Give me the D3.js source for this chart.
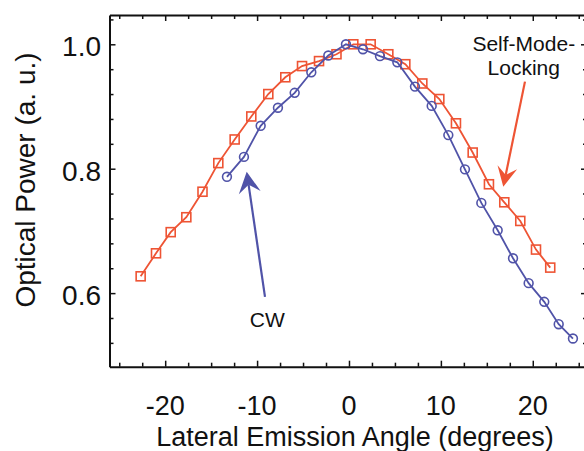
<!DOCTYPE html>
<html><head><meta charset="utf-8">
<script src="https://cdn.jsdelivr.net/npm/d3@7"></script>
<style>html,body{margin:0;padding:0;background:#fff;}svg{display:block;}</style>
</head><body>
<svg id="c" width="584" height="451"></svg>
<script>
// Self-Mode-Locking series
const smlAngle = [-22.67, -21.0, -19.40, -17.70, -15.94, -14.22, -12.44, -10.63, -8.78, -6.93, -5.11, -3.26, -1.36, 0.47, 2.36, 4.28, 6.13, 7.98, 9.83, 11.64, 13.46, 15.23, 16.90, 18.64, 20.35, 21.90];
const smlPower = [0.627, 0.664, 0.698, 0.722, 0.763, 0.809, 0.847, 0.884, 0.920, 0.947, 0.965, 0.973, 0.984, 1.000, 1.000, 0.984, 0.968, 0.937, 0.912, 0.873, 0.826, 0.775, 0.746, 0.716, 0.670, 0.641];
// CW series
const cwAngle = [-13.28, -11.43, -9.61, -7.73, -5.91, -4.10, -2.25, -0.33, 1.52, 3.37, 5.26, 7.18, 9.00, 10.81, 12.62, 14.40, 16.18, 17.85, 19.55, 21.25, 22.82, 24.37];
const cwPower = [0.787, 0.819, 0.869, 0.898, 0.922, 0.955, 0.982, 1.000, 0.992, 0.981, 0.971, 0.932, 0.901, 0.854, 0.799, 0.745, 0.701, 0.656, 0.616, 0.586, 0.550, 0.527];
// ticks
const xTickLabels = [-20, -10, 0, 10, 20];
const xMinorTicks = [-25, -22.5, -20, -17.5, -15, -12.5, -10, -7.5, -5, -2.5, 0, 2.5, 5, 7.5, 10, 12.5, 15, 17.5, 20, 22.5, 25];
const yTickLabels = [0.6, 0.8, 1.0];
const yMinorTicks = [0.52, 0.56, 0.60, 0.64, 0.68, 0.72, 0.76, 0.80, 0.84, 0.88, 0.92, 0.96, 1.00, 1.04];
// annotations (data coordinates)
const cwArrow = {tail: [-9.14, 0.594], tip: [-11.13, 0.795], label: "CW", at: [-8.89, 0.546]};
const smlArrow = {tail: [19.15, 0.940], tip: [16.79, 0.771], lines: ["Self-Mode-", "Locking"], at: [19.02, 0.990], at2: [19.02, 0.950]};

const RED = "#ee5434", BLUE = "#5053a8";
const svg = d3.select("#c");
const L = 109.5, R = 587, T = 15, B = 366.7;
const x = d3.scaleLinear().domain([-26.06, 25.9]).range([L, R]);
const y = d3.scaleLinear().domain([0.4817, 1.0471]).range([B, T]);
const font = "'Liberation Sans', Arial, Helvetica, sans-serif";

function tickLen(major){return major?6:4;}
const isMajX = v => Math.abs(v % 10) < 1e-6;
const isMajY = v => yTickLabels.some(t => Math.abs(t - v) < 1e-6);
const gBottom = svg.append("g").attr("transform", `translate(0,${B})`)
  .call(d3.axisBottom(x).tickValues(xMinorTicks).tickSize(0).tickFormat(""));
const gTop = svg.append("g").attr("transform", `translate(0,${T})`)
  .call(d3.axisTop(x).tickValues(xMinorTicks).tickSize(0).tickFormat(""));
const gLeft = svg.append("g").attr("transform", `translate(${L},0)`)
  .call(d3.axisLeft(y).tickValues(yMinorTicks).tickSize(0).tickFormat(""));
const gRight = svg.append("g").attr("transform", `translate(${R},0)`)
  .call(d3.axisRight(y).tickValues(yMinorTicks).tickSize(0).tickFormat(""));
gBottom.selectAll(".tick line").attr("y2", d => -tickLen(isMajX(d)));
gTop.selectAll(".tick line").attr("y2", d => tickLen(isMajX(d)));
gLeft.selectAll(".tick line").attr("x2", d => tickLen(isMajY(d)));
gRight.selectAll(".tick line").attr("x2", d => -tickLen(isMajY(d)));
[gBottom, gTop, gLeft, gRight].forEach(g => {
  g.select(".domain").attr("stroke", "#111").attr("stroke-width", 2);
  g.selectAll(".tick line").attr("stroke", "#111").attr("stroke-width", 1.5);
});

// tick labels
svg.append("g").selectAll("text").data(xTickLabels).join("text")
  .attr("x", d => x(d)).attr("y", 415).attr("text-anchor", "middle")
  .attr("font-family", font).attr("font-size", 27).attr("fill", "#111")
  .text(d => d);
svg.append("g").selectAll("text").data(yTickLabels).join("text")
  .attr("x", 101).attr("y", d => y(d) + 12).attr("text-anchor", "end")
  .attr("font-family", font).attr("font-size", 28).attr("fill", "#111")
  .text(d => d.toFixed(1));

// axis titles
svg.append("text").attr("x", 355).attr("y", 446).attr("text-anchor", "middle")
  .attr("font-family", font).attr("font-size", 27).attr("fill", "#111")
  .text("Lateral Emission Angle (degrees)");
svg.append("text").attr("transform", "translate(35,180) rotate(-90)").attr("text-anchor", "middle")
  .attr("font-family", font).attr("font-size", 28).attr("fill", "#111")
  .text("Optical Power (a. u.)");

// series
const sml = smlAngle.map((a, i) => [a, smlPower[i]]);
const cw = cwAngle.map((a, i) => [a, cwPower[i]]);
const line = d3.line().x(d => x(d[0])).y(d => y(d[1]));
svg.append("path").datum(sml).attr("d", line).attr("fill", "none").attr("stroke", RED).attr("stroke-width", 1.8);
svg.append("g").selectAll("rect").data(sml).join("rect")
  .attr("x", d => x(d[0]) - 4.5).attr("y", d => y(d[1]) - 4.5).attr("width", 9).attr("height", 9)
  .attr("fill", "none").attr("stroke", RED).attr("stroke-width", 1.6);
svg.append("path").datum(cw).attr("d", line).attr("fill", "none").attr("stroke", BLUE).attr("stroke-width", 1.8);
svg.append("g").selectAll("circle").data(cw).join("circle")
  .attr("cx", d => x(d[0])).attr("cy", d => y(d[1])).attr("r", 4.4)
  .attr("fill", "none").attr("stroke", BLUE).attr("stroke-width", 1.6);

// arrows
function arrow(a, color, len, hw, notch) {
  const tx = x(a.tail[0]), ty = y(a.tail[1]), px = x(a.tip[0]), py = y(a.tip[1]);
  const dx = px - tx, dy = py - ty, d = Math.hypot(dx, dy), ux = dx / d, uy = dy / d;
  const nx = -uy, ny = ux;
  const bx = px - ux * len, by = py - uy * len;
  const cx = px - ux * notch, cy = py - uy * notch;
  svg.append("line").attr("x1", tx).attr("y1", ty).attr("x2", cx).attr("y2", cy)
    .attr("stroke", color).attr("stroke-width", 2.2);
  svg.append("path").attr("d", `M${px},${py}L${bx + nx * hw},${by + ny * hw}L${cx},${cy}L${bx - nx * hw},${by - ny * hw}Z`)
    .attr("fill", color);
}
arrow(cwArrow, BLUE, 21, 11, 13);
arrow(smlArrow, RED, 20, 10, 12);

svg.append("text").attr("x", x(cwArrow.at[0])).attr("y", y(cwArrow.at[1])).attr("text-anchor", "middle")
  .attr("font-family", font).attr("font-size", 21).attr("fill", "#111").text(cwArrow.label);
svg.append("text").attr("x", x(smlArrow.at[0])).attr("y", y(smlArrow.at[1])).attr("text-anchor", "middle")
  .attr("font-family", font).attr("font-size", 21).attr("fill", "#111").text(smlArrow.lines[0]);
svg.append("text").attr("x", x(smlArrow.at2[0])).attr("y", y(smlArrow.at2[1])).attr("text-anchor", "middle")
  .attr("font-family", font).attr("font-size", 21).attr("fill", "#111").text(smlArrow.lines[1]);
</script>
</body></html>
